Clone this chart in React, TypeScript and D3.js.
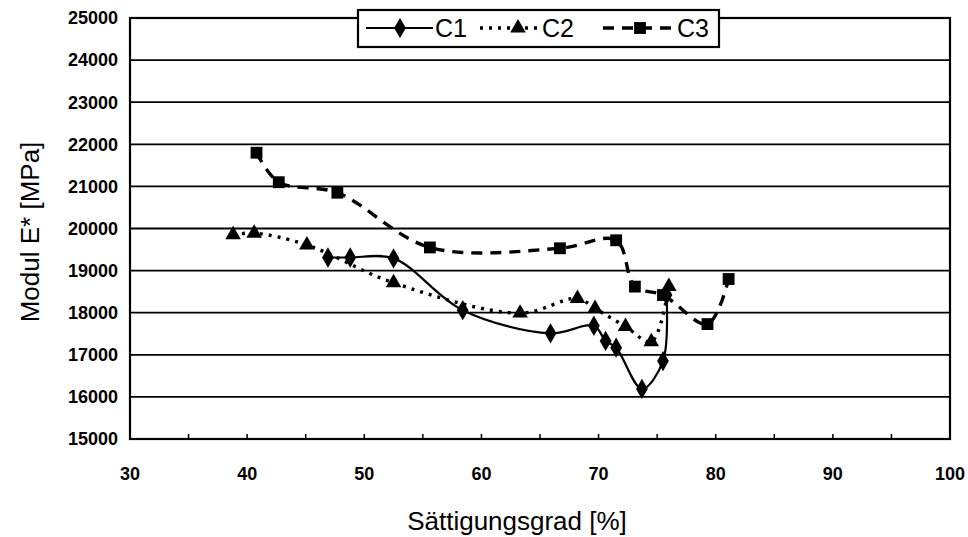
import React, { useEffect, useRef } from "react";
import * as d3 from "d3";

// values
const c1X = [46.9, 48.8, 52.5, 58.4, 65.9, 69.6, 70.6, 71.5, 73.7, 75.5, 75.8];
const c1Y = [19310, 19310, 19290, 18060, 17510, 17690, 17330, 17170, 16190, 16850, 18420];

const c2X = [38.8, 40.6, 45.1, 52.5, 63.3, 68.2, 69.7, 72.3, 74.5, 76.0];
const c2Y = [19850, 19890, 19610, 18710, 17990, 18340, 18100, 17670, 17310, 18620];

const c3X = [40.8, 42.7, 47.7, 55.6, 66.7, 71.5, 73.1, 75.5, 79.3, 81.1];
const c3Y = [21800, 21100, 20850, 19550, 19530, 19720, 18620, 18420, 17730, 18800];

const seriesNames = ["C1", "C2", "C3"];
const xTicks = [30, 40, 50, 60, 70, 80, 90, 100];
const yTicks = [15000, 16000, 17000, 18000, 19000, 20000, 21000, 22000, 23000, 24000, 25000];

const FONT = "'Liberation Sans', Arial, sans-serif";

function App() {
    const ref = useRef<SVGSVGElement | null>(null);

    useEffect(() => {
        const svg = d3.select(ref.current);
        svg.selectAll("*").remove();

        const left = 130, right = 950, top = 18, bottom = 439;

        const x = d3.scaleLinear().domain([30, 100]).range([left, right]);
        const y = d3.scaleLinear().domain([15000, 25000]).range([bottom, top]);

        // gridlines
        svg.append("g")
            .selectAll("line")
            .data(yTicks)
            .join("line")
            .attr("x1", left).attr("x2", right)
            .attr("y1", d => y(d)).attr("y2", d => y(d))
            .attr("stroke", "#000")
            .attr("stroke-width", 1.8);

        // box
        svg.append("rect")
            .attr("x", left).attr("y", top)
            .attr("width", right - left).attr("height", bottom - top)
            .attr("fill", "none")
            .attr("stroke", "#000")
            .attr("stroke-width", 2.2);

        // small ticks on the bottom axis, pointing inward
        svg.append("g")
            .selectAll("line")
            .data(d3.range(35, 100, 5))
            .join("line")
            .attr("x1", d => x(d)).attr("x2", d => x(d))
            .attr("y1", bottom).attr("y2", bottom - 5)
            .attr("stroke", "#000")
            .attr("stroke-width", 1.5);

        // tick labels
        svg.append("g")
            .selectAll("text")
            .data(yTicks)
            .join("text")
            .attr("x", 118)
            .attr("y", d => y(d))
            .attr("dy", "0.35em")
            .attr("text-anchor", "end")
            .attr("font-family", FONT)
            .attr("font-weight", "bold")
            .attr("font-size", 18)
            .text(d => d);

        svg.append("g")
            .selectAll("text")
            .data(xTicks)
            .join("text")
            .attr("x", d => x(d))
            .attr("y", 474)
            .attr("dy", "0.35em")
            .attr("text-anchor", "middle")
            .attr("font-family", FONT)
            .attr("font-weight", "bold")
            .attr("font-size", 18)
            .text(d => d);

        // axis titles
        svg.append("text")
            .attr("x", 517).attr("y", 521)
            .attr("dy", "0.35em")
            .attr("text-anchor", "middle")
            .attr("font-family", FONT)
            .attr("font-size", 26)
            .text("Sättigungsgrad [%]");

        svg.append("text")
            .attr("transform", "translate(30,232) rotate(-90)")
            .attr("dy", "0.35em")
            .attr("text-anchor", "middle")
            .attr("font-family", FONT)
            .attr("font-size", 26)
            .text("Modul E* [MPa]");

        const line = d3.line<number[]>()
            .x(d => x(d[0]))
            .y(d => y(d[1]))
            .curve(d3.curveCatmullRom.alpha(0.5));

        const styles = [
            { dash: null, width: 2.2, symbol: d3.symbolDiamond, size: 120 },
            { dash: "3,6", width: 3.4, symbol: d3.symbolTriangle, size: 105 },
            { dash: "11,8", width: 3.4, symbol: d3.symbolSquare, size: 140 },
        ];

        const all = [
            d3.zip(c1X, c1Y),
            d3.zip(c2X, c2Y),
            d3.zip(c3X, c3Y),
        ];

        all.forEach((data, i) => {
            const s = styles[i];
            svg.append("path")
                .datum(data)
                .attr("fill", "none")
                .attr("stroke", "#000")
                .attr("stroke-width", s.width)
                .attr("stroke-dasharray", s.dash)
                .attr("d", line);

            svg.append("g")
                .selectAll("path")
                .data(data)
                .join("path")
                .attr("transform", d => `translate(${x(d[0])},${y(d[1])})`)
                .attr("d", d3.symbol().type(s.symbol).size(s.size)());
        });

        // legend
        const lg = svg.append("g");
        lg.append("rect")
            .attr("x", 358).attr("y", 10)
            .attr("width", 361).attr("height", 37)
            .attr("fill", "#fff")
            .attr("stroke", "#000")
            .attr("stroke-width", 2.2);

        const legendItems = [
            { x1: 366, x2: 433, mx: 400, tx: 435 },
            { x1: 480, x2: 540, mx: 518, tx: 542 },
            { x1: 603, x2: 673, mx: 640, tx: 677 },
        ];
        legendItems.forEach((it, i) => {
            const s = styles[i];
            lg.append("line")
                .attr("x1", it.x1).attr("x2", it.x2)
                .attr("y1", 28).attr("y2", 28)
                .attr("stroke", "#000")
                .attr("stroke-width", s.width)
                .attr("stroke-dasharray", s.dash);
            lg.append("path")
                .attr("transform", `translate(${it.mx},28)`)
                .attr("d", d3.symbol().type(s.symbol).size(s.size)());
            lg.append("text")
                .attr("x", it.tx).attr("y", 28)
                .attr("dy", "0.35em")
                .attr("font-family", FONT)
                .attr("font-size", 25)
                .text(seriesNames[i]);
        });
    }, []);

    return (
        <svg ref={ref} width={968} height={537}
            style={{ position: "absolute", left: 0, top: 0, background: "#fff" }} />
    );
}

export default App;
